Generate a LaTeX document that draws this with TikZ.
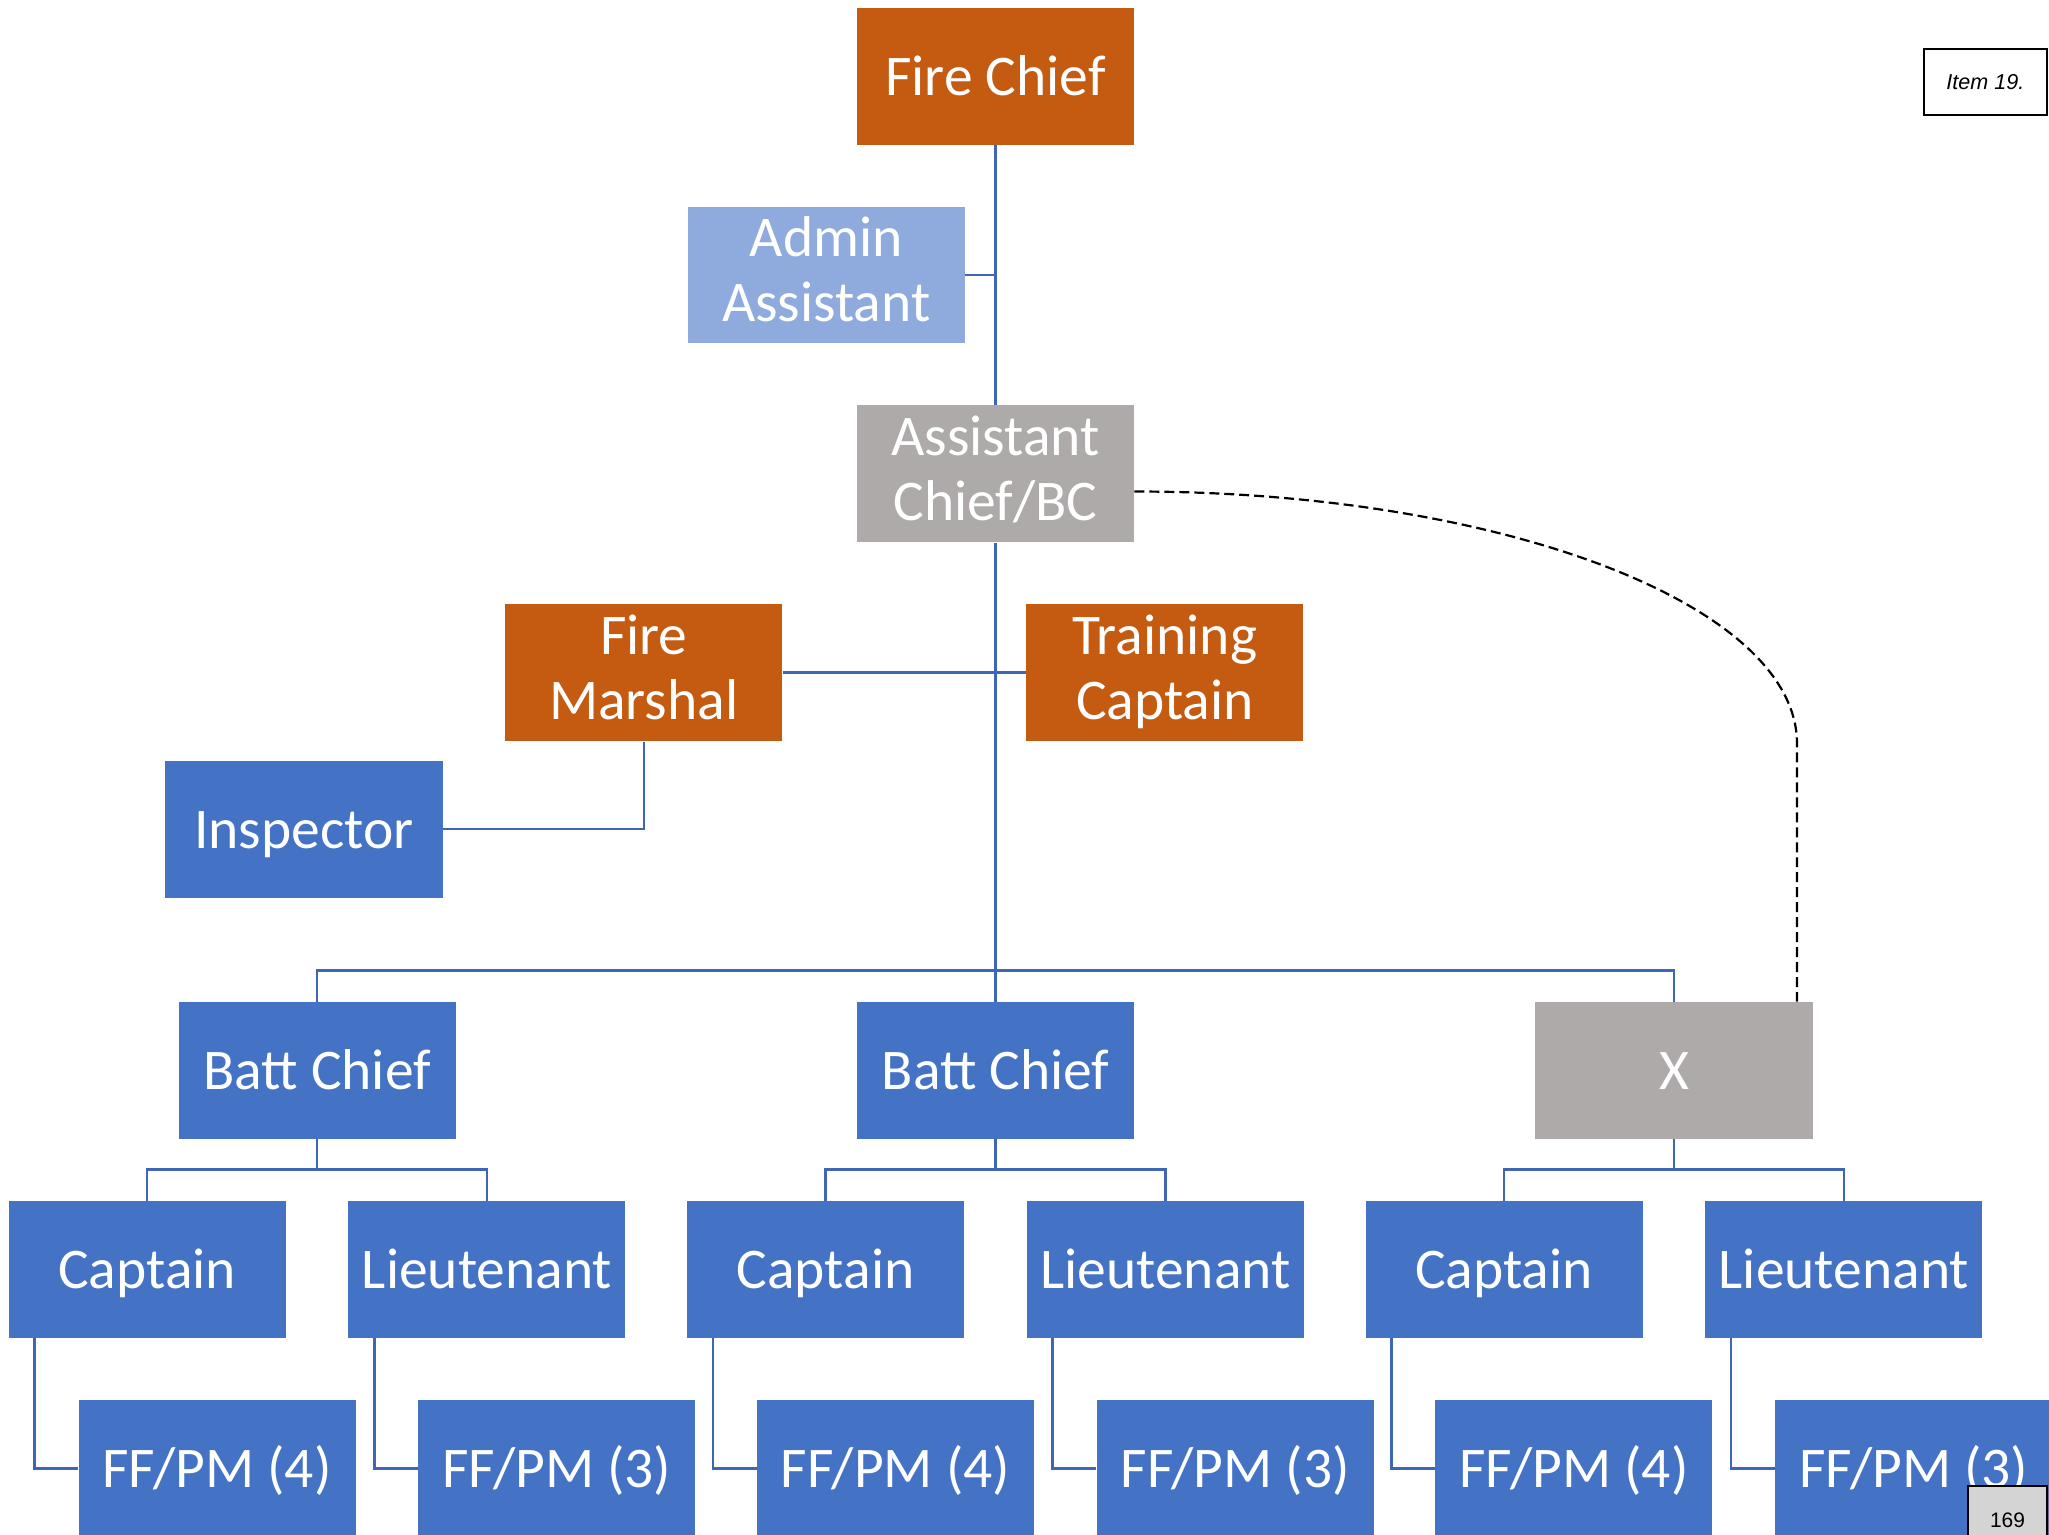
\documentclass[tikz,border=0pt]{standalone}
\usepackage{fontspec}
\setmainfont{Carlito}
\newfontfamily\notefont{Liberation Sans}
\newcommand{\orgfont}{\fontsize{28.8}{32.5}\selectfont}
\newcommand{\orgstrut}{\rule[-6pt]{0pt}{31pt}}
\definecolor{orgblue}{RGB}{68,114,196}
\definecolor{orgorange}{RGB}{197,90,17}
\definecolor{orggray}{RGB}{174,170,170}
\definecolor{orglight}{RGB}{143,170,220}
\definecolor{linkblue}{RGB}{62,102,180}
\definecolor{pagegray}{RGB}{212,212,212}

\begin{document}
\begin{tikzpicture}[node distance=3.5cm,
    post/.style={rectangle, fill=orgblue, text=white, font=\orgfont, align=center, inner sep=0pt, minimum width=4.875cm, minimum height=2.41cm, execute at begin node=\orgstrut, execute at end node=\orgstrut},
    note/.style={rectangle, draw=black, line width=1pt, fill=white, inner sep=0pt, font=\notefont\fontsize{10.8}{13}\selectfont\itshape, minimum width=2.165cm, minimum height=1.16cm},
    link/.style={draw=linkblue, line width=1.3pt}]
      \useasboundingbox (0,0) rectangle (36.06,-27.0);
      \clip (0,0) rectangle (36.06,-27.0);

      \node[post, fill=orgorange] (chief) at (17.52,-1.34) {Fire Chief};
      \node[post, fill=orglight] (admin) [below of=chief, xshift=-2.98cm] {Admin\\Assistant};
      \node[post, fill=orggray] (asst) [below of=admin, xshift=2.98cm] {Assistant\\Chief/BC};
      \node[post, fill=orgorange] (marshal) [below of=asst, xshift=-6.19cm] {Fire\\Marshal};
      \node[post, fill=orgorange] (training) [below of=asst, xshift=2.98cm] {Training\\Captain};
      \node[post] (inspector) [below of=marshal, xshift=-5.98cm, yshift=0.75cm] {Inspector};

      \node[post] (bc2) [below of=asst, yshift=-7cm] {Batt Chief};
      \node[post] (bc1) [left of=bc2, xshift=-8.44cm] {Batt Chief};
      \node[post, fill=orggray] (bcx) [right of=bc2, xshift=8.44cm] {X};

      \node[post] (cap1) [below of=bc1, xshift=-2.99cm] {Captain};
      \node[post] (lt1) [below of=bc1, xshift=2.99cm] {Lieutenant};
      \node[post] (cap2) [below of=bc2, xshift=-2.99cm] {Captain};
      \node[post] (lt2) [below of=bc2, xshift=2.99cm] {Lieutenant};
      \node[post] (cap3) [below of=bcx, xshift=-2.99cm] {Captain};
      \node[post] (lt3) [below of=bcx, xshift=2.99cm] {Lieutenant};

      \node[post] (ff1) [below of=cap1, xshift=1.23cm] {FF/PM (4)};
      \node[post] (ff2) [below of=lt1, xshift=1.23cm] {FF/PM (3)};
      \node[post] (ff3) [below of=cap2, xshift=1.23cm] {FF/PM (4)};
      \node[post] (ff4) [below of=lt2, xshift=1.23cm] {FF/PM (3)};
      \node[post] (ff5) [below of=cap3, xshift=1.23cm] {FF/PM (4)};
      \node[post] (ff6) [below of=lt3, xshift=1.23cm] {FF/PM (3)};

      \node[note] (item) at (34.94,-1.44) {Item 19.};
      \node[note, fill=pagegray, anchor=north, minimum width=1.39cm, minimum height=1.2cm, font=\notefont\fontsize{10.5}{12}\selectfont] (page) at (35.33,-26.14) {169};

      \draw[link] (chief.south) -- (asst.north);
      \draw[link] (admin.east) -- (admin.east -| chief.south);
      \draw[link] (asst.south) -- (bc2.north);
      \draw[link] (marshal.east) -- (training.west);
      \draw[link] (marshal.south) |- (inspector.east);
      \draw[link] (bc1.north) -- ++(0,0.55) -| (bcx.north);

      \draw[link] (bc1.south) -- ++(0,-0.55);
      \draw[link] (cap1.north) -- ++(0,0.55) -| (lt1.north);
      \draw[link] (bc2.south) -- ++(0,-0.55);
      \draw[link] (cap2.north) -- ++(0,0.55) -| (lt2.north);
      \draw[link] (bcx.south) -- ++(0,-0.55);
      \draw[link] (cap3.north) -- ++(0,0.55) -| (lt3.north);

      \draw[link] ([xshift=0.46cm]cap1.south west) |- (ff1.west);
      \draw[link] ([xshift=0.46cm]lt1.south west) |- (ff2.west);
      \draw[link] ([xshift=0.46cm]cap2.south west) |- (ff3.west);
      \draw[link] ([xshift=0.46cm]lt2.south west) |- (ff4.west);
      \draw[link] ([xshift=0.46cm]cap3.south west) |- (ff5.west);
      \draw[link] ([xshift=0.46cm]lt3.south west) |- (ff6.west);

      \coordinate (bend) at ([xshift=2.165cm, yshift=4.54cm]bcx.north);
      \draw[dash pattern=on 5pt off 2.5pt, line width=1.1pt] ([yshift=-0.31cm]asst.east) .. controls +(6.41,0) and +(0,2.46) .. (bend) -- (bend |- bcx.north);
    \end{tikzpicture}
\end{document}
